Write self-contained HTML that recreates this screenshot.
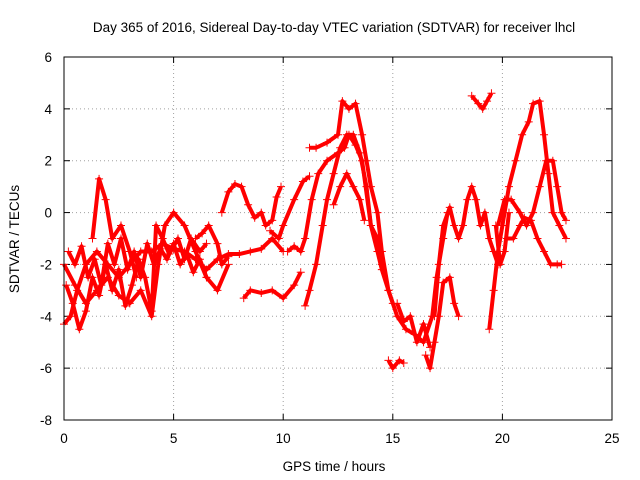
<!DOCTYPE html>
<html><head><meta charset="utf-8">
<style>
body{margin:0;background:#fff;}
svg{display:block;font-family:"Liberation Sans",sans-serif;}
</style></head>
<body>
<svg id="chart" width="640" height="480" viewBox="0 0 640 480">
<rect width="640" height="480" fill="#fff"/>
<text x="334" y="32" font-size="13.5" text-anchor="middle">Day 365 of 2016, Sidereal Day-to-day VTEC variation (SDTVAR) for receiver lhcl</text>
<text x="334" y="471" font-size="13.5" text-anchor="middle">GPS time / hours</text>
<text transform="translate(19,239) rotate(-90)" font-size="13.5" text-anchor="middle">SDTVAR / TECUs</text>
<g id="grid"></g><g id="axes"></g><g id="marks"></g>
<rect x="64" y="57" width="548" height="363" fill="none" stroke="#000" stroke-width="1"/>
</svg>
<script>
const xTicks=[0,5,10,15,20,25];
const yTicks=[-8,-6,-4,-2,0,2,4,6];
const tracks=[
[[0,-4.3],[0.3,-4],[0.6,-3],[1,-2],[1.5,-1.5],[2,-2],[2.5,-2.5],[3,-2],[3.5,-1.5],[4,-1.5],[4.5,-1.2],[5,-1.4],[5.5,-1.5],[6,-1.8],[6.5,-2.2],[7,-1.8],[7.5,-1.6],[8,-1.6],[8.5,-1.5],[9,-1.4],[9.5,-1],[10,-1.5]],
[[0,-2],[0.5,-2.8],[1,-3.5],[1.5,-3],[2,-2.5],[2.5,-3.2],[3,-3.5],[3.5,-3],[4,-4],[4.3,-2],[4.6,-0.5],[5,0],[5.5,-0.5],[6,-1.5],[6.5,-2.5],[7,-3],[7.5,-2]],
[[0.2,-1.5],[0.5,-2],[0.8,-1.3],[1.1,-2.5],[1.4,-1.8],[1.7,-2.8],[2,-1.2],[2.3,-2],[2.6,-1],[2.9,-2.2],[3.2,-1.5],[3.5,-2.5],[3.8,-1.2],[4.1,-2],[4.4,-1.4],[4.7,-1.8],[5,-1.2],[5.3,-2],[5.6,-1.6],[5.9,-2.3],[6.2,-1.8],[6.5,-2.5]],
[[0.1,-2.8],[0.4,-3.5],[0.7,-4.5],[1,-3.8],[1.3,-2.5],[1.6,-3.2],[1.9,-2],[2.2,-3],[2.5,-2.2],[2.8,-3.6],[3.1,-2.8],[3.4,-1.8],[3.7,-2.5],[4,-3.8],[4.2,-0.5],[4.5,-1],[4.8,-1.6],[5.2,-1],[5.5,-1.8],[5.8,-1],[6.2,-1.5],[6.5,-1.2]],
[[1.3,-1],[1.6,1.3],[1.9,0.5],[2.2,-1],[2.6,-0.5],[3,-1.5],[3.3,-2.5]],
[[7.2,0],[7.5,0.8],[7.8,1.1],[8.1,1],[8.4,0.3],[8.7,-0.2],[9,0],[9.2,-0.5],[9.5,-0.3],[9.7,0.6],[9.9,1]],
[[6,-1],[6.3,-0.8],[6.6,-0.5],[7,-1.2],[7.2,-2],[7.5,-1.7]],
[[8.2,-3.3],[8.5,-3],[9,-3.1],[9.5,-3],[10,-3.3],[10.5,-2.8],[10.8,-2.3]],
[[9.4,-0.7],[9.8,-1],[10,-0.5],[10.5,0.5],[10.9,1.2],[11.2,1.4]],
[[10.2,-1.5],[10.5,-1.3],[10.8,-1.5],[11,-1],[11.3,0.5],[11.6,1.5],[12,2],[12.5,2.3],[12.8,2.5],[13,3],[13.3,2.6],[13.6,2],[14,-0.5],[14.3,-1.5],[14.5,-2.2],[14.8,-3],[15.2,-4],[15.6,-4.5],[16,-4.7],[16.4,-5],[16.8,-4],[17,-2.5],[17.3,-1],[17.5,0]],
[[11,-3.6],[11.2,-3],[11.5,-2],[11.8,-0.5],[12,0.5],[12.3,1.5],[12.6,2.5],[12.9,3],[13.2,3],[13.5,2.3],[13.8,1],[14,-0.5],[14.3,-1],[14.5,-2]],
[[11.2,2.5],[11.5,2.5],[12,2.7],[12.5,3],[12.7,4.3],[13,4],[13.3,4.2],[13.6,3],[13.8,2],[14,1],[14.3,0],[14.5,-1.5],[14.8,-3],[15,-3.5]],
[[12.3,0.3],[12.6,1],[12.9,1.5],[13.2,1],[13.5,0.5],[13.7,-0.3]],
[[14.8,-5.7],[15,-6],[15.3,-5.7],[15.5,-5.8]],
[[15.2,-3.5],[15.5,-4.2],[15.8,-4],[16.1,-5],[16.4,-4.3],[16.7,-5.2]],
[[16.5,-5.5],[16.7,-6],[16.9,-5],[17.1,-4],[17.3,-2.7],[17.6,-2.5],[17.8,-3.5],[18,-4]],
[[16.9,-4],[17.1,-2],[17.3,-0.5],[17.6,0.2],[17.8,-0.5],[18,-1],[18.2,-0.5],[18.4,0.5],[18.6,1],[18.8,0.5],[19,-0.5],[19.2,0],[19.4,-1],[19.6,-1.5],[19.8,-2]],
[[18.6,4.5],[18.9,4.2],[19.1,4],[19.3,4.3],[19.5,4.6]],
[[19.4,-4.5],[19.6,-3],[19.8,-1.5],[20,-0.5],[20.3,1],[20.6,2],[20.9,3],[21.2,3.5],[21.4,4.2],[21.7,4.3],[21.9,3],[22.1,1.5],[22.3,0],[22.6,-0.5],[22.9,-1]],
[[19.8,-0.5],[20.1,0.5],[20.4,0.5],[20.8,0],[21.1,-0.5],[21.4,0],[21.7,1],[22,2],[22.3,2],[22.5,1],[22.7,0],[22.9,-0.3]],
[[20.2,-1],[20.5,-1],[20.8,-0.5],[21,-0.2],[21.3,-0.3],[21.6,-1],[21.9,-1.5],[22.2,-2],[22.5,-2],[22.7,-2]],
[[19.7,-0.5],[19.9,-2],[20.1,-1.5],[20.3,0]]
];
const NS="http://www.w3.org/2000/svg";
const X0=64,X1=612,Y0=420,Y1=57;
function sx(t){return X0+(t-0)/(25-0)*(X1-X0);}
function sy(v){return Y0-(v+8)/(6+8)*(Y0-Y1);}
function mk(tag,attrs,parent){const e=document.createElementNS(NS,tag);for(const k in attrs)e.setAttribute(k,attrs[k]);parent.appendChild(e);return e;}
const grid=document.getElementById('grid'),axes=document.getElementById('axes'),marks=document.getElementById('marks');
xTicks.forEach(t=>{const x=sx(t);
 if(t>0&&t<25){const g=mk('line',{x1:x,x2:x,y1:Y1,y2:Y0,stroke:'#a0a0a0','stroke-dasharray':'1,3'},grid);
 
 }
 mk('line',{x1:x,x2:x,y1:Y0,y2:Y0-6,stroke:'#000'},axes);mk('line',{x1:x,x2:x,y1:Y1,y2:Y1+6,stroke:'#000'},axes);
 const l=mk('text',{x:x,y:443,'font-size':'13.5','text-anchor':'middle'},axes);l.textContent=t;
 
 });
yTicks.forEach(v=>{const y=sy(v);
 if(v>-8&&v<6){const g=mk('line',{x1:X0,x2:X1,y1:y,y2:y,stroke:'#a0a0a0','stroke-dasharray':'1,3'},grid);
 
 }
 mk('line',{x1:X0,x2:X0+6,y1:y,y2:y,stroke:'#000'},axes);mk('line',{x1:X1,x2:X1-6,y1:y,y2:y,stroke:'#000'},axes);
 const l=mk('text',{x:52,y:y+5,'font-size':'13.5','text-anchor':'end'},axes);l.textContent=v;
 
 });
tracks.forEach((tr,i)=>{
 const g=mk('g',{},marks);
 
 
 mk('polyline',{points:tr.map(p=>sx(p[0])+','+sy(p[1])).join(' '),fill:'none',stroke:'#f00','stroke-width':'4','stroke-linejoin':'round'},g);
 tr.forEach(p=>{const x=sx(p[0]),y=sy(p[1]);
  const m=mk('path',{d:`M${x-4},${y}h8M${x},${y-4}v8`,stroke:'#f00','stroke-width':'1'},g);
  
  });
});
</script>
</body></html>
